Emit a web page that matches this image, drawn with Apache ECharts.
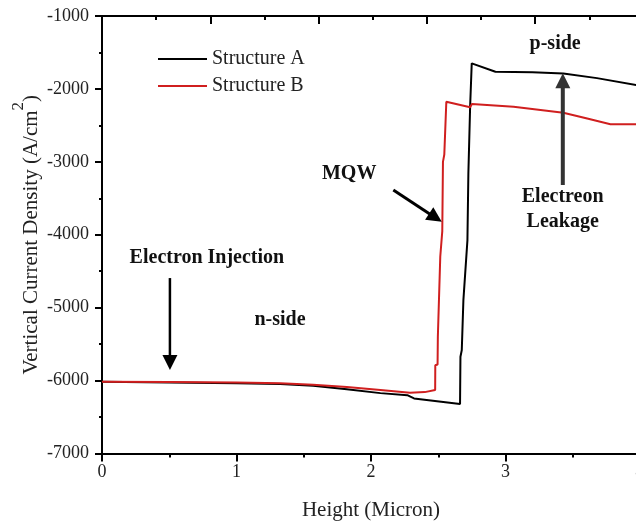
<!DOCTYPE html>
<html>
<head>
<meta charset="utf-8">
<script src="https://cdn.jsdelivr.net/npm/echarts@6/dist/echarts.min.js"></script>
<style>
  html, body { margin: 0; padding: 0; background: #fff; }
  #chart { width: 636px; height: 521px; }
</style>
</head>
<body>
<div id="chart"></div>
<script>
// Vertical current density profiles along the device height
const heightA = [0, 0.5, 1.0, 1.325, 1.57, 1.82, 2.07, 2.27, 2.32, 2.662, 2.665, 2.675, 2.687, 2.717, 2.724, 2.737, 2.749, 2.925, 3.2, 3.43, 3.68, 4.0];
const currentA = [-6015, -6025, -6035, -6048, -6072, -6118, -6172, -6200, -6245, -6322, -5674, -5580, -4896, -4073, -3154, -2244, -1649, -1765, -1772, -1790, -1852, -1955];

const heightB = [0, 0.5, 1.0, 1.325, 1.57, 1.82, 2.07, 2.29, 2.40, 2.477, 2.478, 2.495, 2.497, 2.51, 2.515, 2.53, 2.535, 2.545, 2.56, 2.737, 2.75, 3.06, 3.43, 3.6, 3.78, 4.0];
const currentB = [-6015, -6018, -6026, -6036, -6056, -6088, -6128, -6168, -6158, -6128, -5790, -5780, -5400, -5380, -4300, -3950, -3000, -2900, -2176, -2252, -2207, -2244, -2326, -2403, -2485, -2485];

const seriesNames = ['Structure A', 'Structure B'];
const yTicks = { min: -7000, max: -1000, step: 1000 };
const xTicks = { min: 0, max: 4, step: 1 };

const serif = '"Liberation Serif", "Times New Roman", serif';
const ink = '#111';

function pairs(xs, ys) { return xs.map((x, i) => [x, ys[i]]); }

const chart = echarts.init(document.getElementById('chart'), null, { renderer: 'canvas' });

chart.setOption({
  animation: false,
  backgroundColor: '#fff',
  grid: { left: 102, top: 16, width: 538, height: 437.5, containLabel: false, outerBoundsMode: 'none' },
  legend: {
    orient: 'vertical',
    left: 153, top: 44,
    itemWidth: 49, itemHeight: 2, itemGap: 7,
    icon: 'rect',
    textStyle: { fontFamily: serif, fontSize: 20, color: '#222', lineHeight: 20, padding: [0, 0, 0, 0] },
    data: seriesNames
  },
  xAxis: [{
    type: 'value', position: 'bottom',
    min: xTicks.min, max: xTicks.max, interval: xTicks.step,
    name: 'Height (Micron)', nameLocation: 'middle', nameGap: 46, nameMoveOverlap: false,
    nameTextStyle: { fontFamily: serif, fontSize: 21, color: '#222' },
    axisLine: { show: true, onZero: false, lineStyle: { color: '#000', width: 2 } },
    axisTick: { show: true, inside: false, length: 8, lineStyle: { color: '#000', width: 2 } },
    minorTick: { show: true, splitNumber: 2, length: 4, lineStyle: { color: '#000', width: 2 } },
    axisLabel: { fontFamily: serif, fontSize: 18, color: '#222', margin: 10, showMinLabel: true, showMaxLabel: true, hideOverlap: false },
    splitLine: { show: false }, minorSplitLine: { show: false }
  }, {
    type: 'value', position: 'top',
    min: 0, max: 4.968, interval: 1,
    axisLine: { show: true, onZero: false, lineStyle: { color: '#000', width: 2 } },
    axisTick: { show: true, inside: true, length: 8, lineStyle: { color: '#000', width: 2 } },
    minorTick: { show: true, splitNumber: 2, length: 4, lineStyle: { color: '#000', width: 2 } },
    axisLabel: { show: false },
    splitLine: { show: false }, minorSplitLine: { show: false }
  }],
  yAxis: {
    type: 'value',
    min: yTicks.min, max: yTicks.max, interval: yTicks.step,
    name: '{m|Vertical Current Density (A/cm}{s|2}{m|)}', nameLocation: 'middle', nameGap: 60, nameRotate: 90,
    nameMoveOverlap: false,
    nameTextStyle: {
      fontFamily: serif, fontSize: 21, color: '#222',
      rich: {
        m: { fontFamily: serif, fontSize: 21, color: '#222', verticalAlign: 'bottom', lineHeight: 32 },
        s: { fontFamily: serif, fontSize: 17, color: '#222', verticalAlign: 'top', lineHeight: 16 }
      }
    },
    axisLine: { show: true, onZero: false, lineStyle: { color: '#000', width: 2 } },
    axisTick: { show: true, inside: false, length: 7, lineStyle: { color: '#000', width: 2 } },
    minorTick: { show: true, splitNumber: 2, length: 3, lineStyle: { color: '#000', width: 2 } },
    axisLabel: {
      fontFamily: serif, fontSize: 18, color: '#222', margin: 13, showMinLabel: true, showMaxLabel: true,
      formatter: v => String(v)
    },
    splitLine: { show: false }, minorSplitLine: { show: false }
  },
  series: [{
    name: seriesNames[0], type: 'line', xAxisIndex: 0,
    data: pairs(heightA, currentA),
    showSymbol: false, symbol: 'none', z: 3,
    itemStyle: { color: '#000' },
    lineStyle: { color: '#000', width: 2 }
  }, {
    name: seriesNames[1], type: 'line', xAxisIndex: 0,
    data: pairs(heightB, currentB),
    showSymbol: false, symbol: 'none', z: 4,
    itemStyle: { color: '#d01f1f' },
    lineStyle: { color: '#d01f1f', width: 2 }
  }]
});

// Annotations placed in data space (height, current density)
const labels = [
  { text: 'Electron Injection', at: [0.78, -4320] },
  { text: 'n-side', at: [1.323, -5160] },
  { text: 'MQW', at: [1.838, -3167] },
  { text: 'p-side', at: [3.369, -1384] },
  { text: 'Electreon', at: [3.425, -3479] },
  { text: 'Leakage', at: [3.425, -3822] }
];
const arrows = [
  { from: [0.505, -4594], to: [0.505, -5856], color: '#000', width: 2.5 },
  { from: [2.166, -3387], to: [2.526, -3822], color: '#000', width: 3 },
  { from: [3.426, -3318], to: [3.426, -1786], color: '#333', width: 4 }
];

function px(p) { return chart.convertToPixel({ xAxisIndex: 0, yAxisIndex: 0 }, p); }

const graphics = [];
labels.forEach(l => {
  const p = px(l.at);
  graphics.push({
    type: 'text', x: p[0], y: p[1], z: 10,
    style: { text: l.text, fontFamily: serif, fontWeight: 'bold', fontSize: 20, fill: ink, align: 'center', verticalAlign: 'middle' }
  });
});
arrows.forEach(a => {
  const s = px(a.from), e = px(a.to);
  const dx = e[0] - s[0], dy = e[1] - s[1];
  const len = Math.hypot(dx, dy);
  const ux = dx / len, uy = dy / len;
  const headLen = 15, headHalf = 7.5;
  const bx = e[0] - ux * headLen, by = e[1] - uy * headLen;
  graphics.push({
    type: 'line', z: 10,
    shape: { x1: s[0], y1: s[1], x2: bx + ux * 2, y2: by + uy * 2 },
    style: { stroke: a.color, lineWidth: a.width }
  });
  graphics.push({
    type: 'polygon', z: 10,
    shape: { points: [[e[0], e[1]], [bx - uy * headHalf, by + ux * headHalf], [bx + uy * headHalf, by - ux * headHalf]] },
    style: { fill: a.color }
  });
});
chart.setOption({ graphic: graphics });
</script>
</body>
</html>
